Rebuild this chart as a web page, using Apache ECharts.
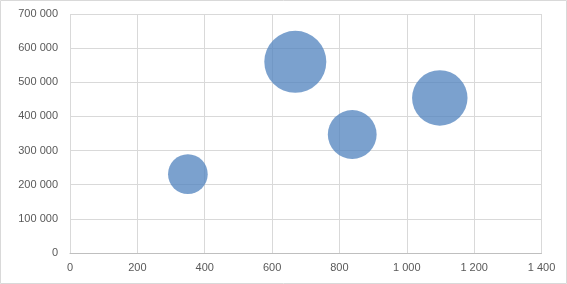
<!DOCTYPE html>
<html>
<head>
<meta charset="utf-8">
<script src="https://cdn.jsdelivr.net/npm/echarts@6/dist/echarts.min.js"></script>
<style>
html,body{margin:0;padding:0;background:#fff;}
#chart{width:567px;height:284px;}
</style>
</head>
<body>
<div id="chart"></div>
<script>
var xValues = [350, 669, 838, 1098];
var yValues = [231000, 560000, 347000, 454000];
var bubbleSizes = [41, 100, 62, 80];
var xTicks = [0, 200, 400, 600, 800, 1000, 1200, 1400];
var yTicks = [0, 100000, 200000, 300000, 400000, 500000, 600000, 700000];

function fmt(v){ return String(v).replace(/\B(?=(\d{3})+(?!\d))/g, ' '); }
var maxSize = Math.max.apply(null, bubbleSizes);
var data = xValues.map(function(x, i){ return [x, yValues[i], bubbleSizes[i]]; });

var chart = echarts.init(document.getElementById('chart'), null, {renderer:'canvas'});
chart.setOption({
  animation: false,
  graphic: [{
    type: 'rect', silent: true, z: 100,
    shape: {x: 0.5, y: 0.5, width: 566, height: 283},
    style: {fill: 'none', stroke: '#d9d9d9', lineWidth: 1}
  }],
  grid: {left: 70, right: 25.5, top: 14, bottom: 31},
  xAxis: {
    type: 'value', min: xTicks[0], max: xTicks[xTicks.length-1], interval: 200,
    axisLine: {show: true, lineStyle: {color: '#bfbfbf'}},
    axisTick: {show: false},
    splitLine: {show: true, lineStyle: {color: '#d9d9d9'}},
    axisLabel: {color: '#595959', fontFamily: 'Liberation Sans', fontSize: 11, margin: 9, formatter: fmt}
  },
  yAxis: {
    type: 'value', min: yTicks[0], max: yTicks[yTicks.length-1], interval: 100000,
    axisLine: {show: false},
    axisTick: {show: false},
    splitLine: {show: true, lineStyle: {color: '#d9d9d9'}},
    axisLabel: {color: '#595959', fontFamily: 'Liberation Sans', fontSize: 11, margin: 12, formatter: fmt}
  },
  series: [{
    type: 'scatter',
    data: data,
    symbolSize: function(d){ return 62 * Math.sqrt(d[2] / maxSize); },
    itemStyle: {color: 'rgba(79,129,189,0.75)', opacity: 1}
  }]
});
</script>
</body>
</html>
